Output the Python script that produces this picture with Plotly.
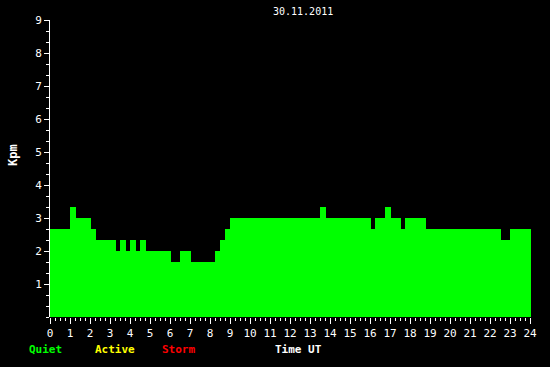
import plotly.graph_objects as go

# Start times (hours UT) of each constant Kpm segment, and end time
seg_start = [0, 1.0, 1.3, 2.05, 2.3, 3.3, 3.5, 3.8, 4.0, 4.3, 4.5, 4.8, 6.05, 6.5, 7.05,
             8.25, 8.5, 8.75, 9.0, 13.5, 13.8, 16.05, 16.25, 16.75, 17.05, 17.55, 17.75,
             18.8, 22.55, 23.0]
seg_end = 24.05
kpm = [2.67, 3.33, 3.0, 2.67, 2.33, 2.0, 2.33, 2.0, 2.33, 2.0, 2.33, 2.0, 1.67, 2.0, 1.67,
       2.0, 2.33, 2.67, 3.0, 3.33, 3.0, 2.67, 3.0, 3.33, 3.0, 2.67, 3.0,
       2.67, 2.33, 2.67]
x_ticks = list(range(0, 25))
y_ticks = list(range(1, 10))
title_text = "30.11.2011"

xs = seg_start + [seg_end]
ys = kpm + [kpm[-1]]

font = "DejaVu Sans Mono"

fig = go.Figure()
fig.add_trace(go.Scatter(
    x=xs, y=ys, mode="lines", line=dict(shape="hv", width=0, color="#00ff00"),
    fill="tozeroy", fillcolor="#00ff00", hoverinfo="skip", showlegend=False))

fig.update_layout(
    width=550, height=367,
    margin=dict(l=50, r=19, t=20, b=50),
    paper_bgcolor="black", plot_bgcolor="black",
    font=dict(family=font, size=11, color="white"),
    xaxis=dict(range=[0, seg_end], tickvals=x_ticks, ticktext=[str(v) for v in x_ticks],
               ticks="outside", ticklen=6, tickcolor="white", tickwidth=1,
               showgrid=False, zeroline=False, showline=False,
               tickfont=dict(family=font, size=11, color="white"),
               minor=dict(dtick=0.25, tick0=0, ticks="outside", ticklen=3, tickcolor="white", showgrid=False)),
    yaxis=dict(range=[0, 9], tickvals=y_ticks, ticktext=[str(v) for v in y_ticks],
               ticks="outside", ticklen=5, tickcolor="white", tickwidth=1,
               showgrid=False, zeroline=False, showline=True, linecolor="white", linewidth=1,
               tickfont=dict(family=font, size=11, color="white"),
               minor=dict(dtick=1/3, tick0=0, ticks="outside", ticklen=3, tickcolor="white", showgrid=False)),
)

ann = [
    dict(text=title_text, x=303, y=12, color="white", size=10),
    dict(text="<b>Quiet</b>", x=45, y=349, color="#00ff00", size=11),
    dict(text="<b>Active</b>", x=115, y=349, color="#ffff00", size=11),
    dict(text="<b>Storm</b>", x=178, y=349, color="#ff0000", size=11),
    dict(text="<b>Time UT</b>", x=298, y=349, color="white", size=11),
]
for a in ann:
    fig.add_annotation(text=a["text"], xref="paper", yref="paper",
                       x=(a["x"] - 50) / 481, y=1 - (a["y"] - 20) / 297,
                       xanchor="center", yanchor="middle", showarrow=False,
                       font=dict(family=font, size=a["size"], color=a["color"]))
fig.add_annotation(text="<b>Kpm</b>", xref="paper", yref="paper",
                   x=(13 - 50) / 481, y=1 - (155 - 20) / 297, textangle=-90,
                   xanchor="center", yanchor="middle", showarrow=False,
                   font=dict(family=font, size=12, color="white"))

fig.write_html("out.html")
